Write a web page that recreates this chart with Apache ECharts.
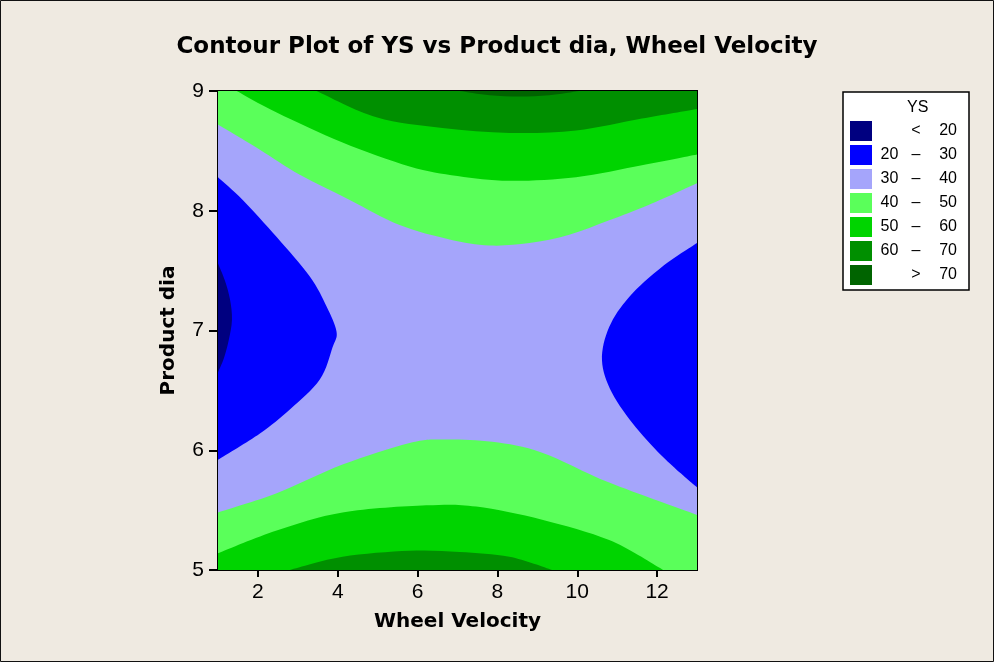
<!DOCTYPE html>
<html>
<head>
<meta charset="utf-8">
<title>Contour Plot of YS</title>
<script src="https://cdn.jsdelivr.net/npm/echarts@6/dist/echarts.min.js"></script>
<style>
html, body { margin: 0; padding: 0; background: #efeae1; }
#chart { width: 994px; height: 662px; }
</style>
</head>
<body>
<div id="chart"></div>
<script>
// axes
var xRange = [1, 13];
var yRange = [5, 9];
var xTicks = [2, 4, 6, 8, 10, 12];
var yTicks = [5, 6, 7, 8, 9];

// YS bands (legend order)
var bandLow  = ['',   '20', '30', '40', '50', '60', ''];
var bandOp   = ['<',  '–',  '–',  '–',  '–',  '–',  '>'];
var bandHigh = ['20', '30', '40', '50', '60', '70', '70'];
var bandColors = ['#000080', '#0000ff', '#a5a5fb', '#5aff5a', '#00d400', '#008f00', '#006400'];

// contour lines, points are [Wheel Velocity, Product dia]
var top40 = [[1, 8.72], [2.05, 8.51], [3.05, 8.3], [4.3, 8.09], [5.55, 7.88], [6.8, 7.76], [7.8, 7.71],
             [8.8, 7.73], [9.8, 7.8], [10.8, 7.92], [11.8, 8.05], [13, 8.23]];
var top50 = [[1.47, 9], [2.47, 8.82], [4.12, 8.57], [5.8, 8.37], [7.0, 8.29], [8.3, 8.25], [9.97, 8.28],
             [11.62, 8.38], [13, 8.47]];
var top60 = [[3.47, 9], [4.97, 8.78], [6.62, 8.69], [8.3, 8.65], [9.97, 8.67], [11.62, 8.77], [13, 8.85]];
var top70 = [[7.05, 9], [7.8, 8.965], [8.55, 8.955], [9.3, 8.965], [10.05, 9]];

var bottom40 = [[1, 5.48], [2.47, 5.64], [4.12, 5.88], [5.8, 6.06], [6.62, 6.09], [7.87, 6.07], [9.12, 5.98],
                [10.8, 5.73], [13, 5.46]];
var bottom50 = [[1, 5.14], [2.47, 5.33], [4.12, 5.48], [6.22, 5.54], [7.47, 5.53], [9.12, 5.42],
                [10.8, 5.25], [12.05, 5.02], [12.1, 5]];
var bottom60 = [[2.8, 5], [4.12, 5.11], [5.8, 5.16], [7.05, 5.15], [8.3, 5.11], [9.37, 5]];

var left30 = [[1, 8.28], [1.62, 8.09], [2.47, 7.78], [3.3, 7.45], [3.72, 7.2], [3.97, 6.99], [3.87, 6.86],
              [3.55, 6.59], [2.8, 6.34], [2.05, 6.14], [1, 5.92]];
var left20 = [[1, 7.56], [1.17, 7.42], [1.3, 7.26], [1.35, 7.09], [1.27, 6.92], [1.15, 6.77], [1, 6.65]];
var right30 = [[13, 7.73], [12.12, 7.53], [11.3, 7.28], [10.8, 7.03], [10.62, 6.75], [10.87, 6.48],
               [11.47, 6.19], [12.22, 5.92], [13, 5.69]];

// which band fills which side of each line
var regions = [
    { band: 3, side: 'top', line: top40 },
    { band: 4, side: 'top', line: top50 },
    { band: 5, side: 'top', line: top60 },
    { band: 6, side: 'top', line: top70 },
    { band: 3, side: 'bottom', line: bottom40 },
    { band: 4, side: 'bottom', line: bottom50 },
    { band: 5, side: 'bottom', line: bottom60 },
    { band: 1, side: 'left', line: left30 },
    { band: 1, side: 'right', line: right30 },
    { band: 0, side: 'left', line: left20 }
];

function bandName(i) {
    return (bandLow[i] ? bandLow[i] + ' ' : '') + bandOp[i] + ' ' + bandHigh[i];
}

// smooth path through the contour points (catmull-rom as bezier), edges straight
function smoothPath(pts) {
    var d = 'M' + pts[0][0] + ' ' + pts[0][1];
    for (var i = 0; i < pts.length - 1; i++) {
        var p0 = pts[i - 1] || pts[i];
        var p1 = pts[i];
        var p2 = pts[i + 1];
        var p3 = pts[i + 2] || p2;
        var c1x = p1[0] + (p2[0] - p0[0]) / 6, c1y = p1[1] + (p2[1] - p0[1]) / 6;
        var c2x = p2[0] - (p3[0] - p1[0]) / 6, c2y = p2[1] - (p3[1] - p1[1]) / 6;
        d += 'C' + c1x + ' ' + c1y + ' ' + c2x + ' ' + c2y + ' ' + p2[0] + ' ' + p2[1];
    }
    return d;
}

function renderRegion(params, api) {
    var r = regions[api.value(0)];
    var pts = r.line.map(function (p) { return api.coord(p); });
    var d = smoothPath(pts);
    var corners = [];
    if (r.side === 'top') {
        corners = [api.coord([xRange[1], yRange[1]]), api.coord([xRange[0], yRange[1]])];
    } else if (r.side === 'bottom') {
        corners = [api.coord([xRange[1], yRange[0]]), api.coord([xRange[0], yRange[0]])];
    }
    corners.forEach(function (c) { d += 'L' + c[0] + ' ' + c[1]; });
    d += 'Z';
    return {
        type: 'path',
        shape: { pathData: d },
        style: { fill: api.visual('color') }
    };
}

function renderBackground(params, api) {
    var cs = params.coordSys;
    return {
        type: 'rect',
        shape: { x: cs.x, y: cs.y, width: cs.width, height: cs.height },
        style: { fill: api.visual('color') }
    };
}

// draw order: 30-40 as the base, then greens going up, then blues
var drawOrder = [2, 3, 4, 5, 6, 1, 0];
var series = drawOrder.map(function (b) {
    var idx = [];
    regions.forEach(function (r, i) { if (r.band === b) idx.push(i); });
    return {
        type: 'custom',
        name: bandName(b),
        color: bandColors[b],
        renderItem: b === 2 ? renderBackground : renderRegion,
        data: b === 2 ? [0] : idx,
        encode: { x: 0, y: 0 },
        clip: true,
        silent: true,
        animation: false
    };
});

var legendNames = bandLow.map(function (v, i) { return bandName(i); });

var chart = echarts.init(document.getElementById('chart'));
chart.setOption({
    backgroundColor: '#efeae1',
    animation: false,
    title: {
        text: 'Contour Plot of YS vs Product dia, Wheel Velocity',
        left: 'center',
        top: 31,
        textStyle: { fontFamily: 'DejaVu Sans', fontWeight: 'bold', fontSize: 23, color: '#000' }
    },
    grid: {
        left: 218, top: 91, width: 479, height: 479,
        show: true, borderColor: '#000', borderWidth: 2, backgroundColor: bandColors[2]
    },
    xAxis: {
        type: 'value',
        min: xRange[0], max: xRange[1],
        name: 'Wheel Velocity',
        nameLocation: 'middle',
        nameGap: 42,
        nameTextStyle: { fontFamily: 'DejaVu Sans', fontWeight: 'bold', fontSize: 20, color: '#000' },
        axisLine: { lineStyle: { color: '#000', width: 2 } },
        axisTick: { length: 7, lineStyle: { color: '#000', width: 2 }, customValues: xTicks },
        axisLabel: { customValues: xTicks, margin: 12, fontFamily: 'Liberation Sans', fontSize: 21, color: '#000' },
        splitLine: { show: false }
    },
    yAxis: {
        type: 'value',
        min: yRange[0], max: yRange[1],
        name: 'Product dia',
        nameLocation: 'middle',
        nameGap: 39,
        nameTextStyle: { fontFamily: 'DejaVu Sans', fontWeight: 'bold', fontSize: 20, color: '#000' },
        axisLine: { lineStyle: { color: '#000', width: 2 } },
        axisTick: { length: 9, lineStyle: { color: '#000', width: 2 }, customValues: yTicks },
        axisLabel: { customValues: yTicks, margin: 14, fontFamily: 'Liberation Sans', fontSize: 21, color: '#000' },
        splitLine: { show: false }
    },
    legend: {
        orient: 'vertical',
        left: 843,
        top: 92,
        padding: [29, 12, 5, 7],
        backgroundColor: '#fff',
        borderColor: '#000',
        borderWidth: 1.5,
        icon: 'rect',
        itemWidth: 22,
        itemHeight: 20,
        itemGap: 4,
        selectedMode: false,
        data: legendNames,
        formatter: function (name) {
            var i = legendNames.indexOf(name);
            return '{lo|' + bandLow[i] + '}{op|' + bandOp[i] + '}{hi|' + bandHigh[i] + '}';
        },
        textStyle: {
            fontFamily: 'Liberation Sans', fontSize: 16, color: '#000',
            rich: {
                lo: { width: 25, align: 'right', fontFamily: 'Liberation Sans', fontSize: 16 },
                op: { width: 28, align: 'center', fontFamily: 'Liberation Sans', fontSize: 16 },
                hi: { width: 27, align: 'right', fontFamily: 'Liberation Sans', fontSize: 16 }
            }
        }
    },
    graphic: [
        {
            type: 'text', left: 907, top: 100, z: 100,
            style: { text: 'YS', fontFamily: 'Liberation Sans', fontSize: 16, fill: '#000' }
        },
        {
            type: 'rect', z: 100, silent: true,
            shape: { x: 0.5, y: 0.5, width: 993, height: 661 },
            style: { fill: 'none', stroke: '#111', lineWidth: 1 }
        }
    ],
    series: series
});
</script>
</body>
</html>
